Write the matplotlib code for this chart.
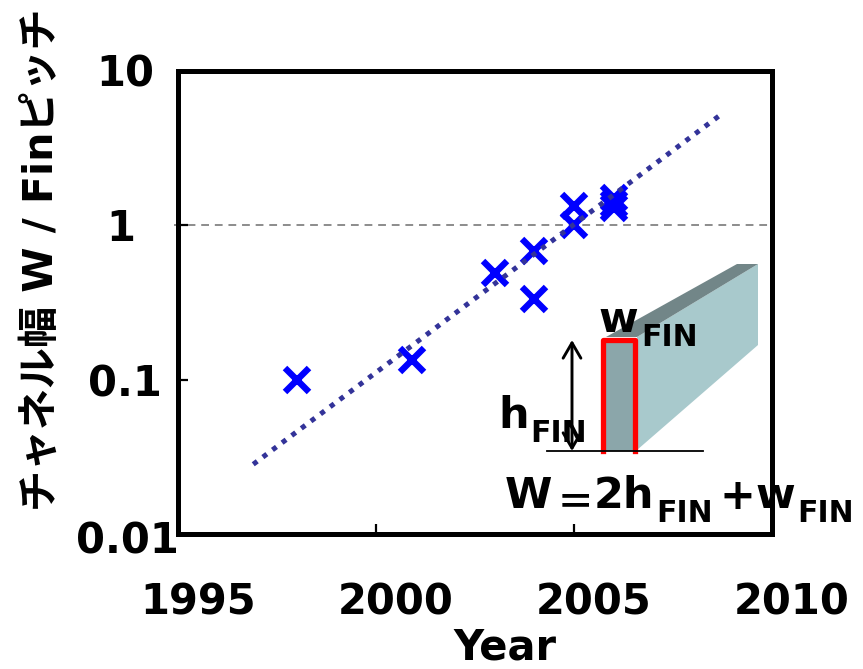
import matplotlib
matplotlib.use('Agg')
import matplotlib.pyplot as plt
from matplotlib.patches import Polygon
from matplotlib.transforms import ScaledTranslation

W, H = 863, 669
DPI = 100

years = [1998, 2000.9, 2003, 2004, 2004, 2005, 2005, 2006, 2006, 2006]
ratio = [0.1, 0.135, 0.49, 0.68, 0.335, 1.33, 1.0, 1.51, 1.30, 1.37]
trend_x = [1996.9, 2008.7]
trend_y = [0.0283, 5.2]
xticks = [1995, 2000, 2005, 2010]
yticks = [0.01, 0.1, 1, 10]
ylabels = ['0.01', '0.1', '1', '10']

plt.rcParams['font.family'] = ['DejaVu Sans', 'Noto Sans CJK JP']
plt.rcParams['font.weight'] = 'bold'

fig = plt.figure(figsize=(W / DPI, H / DPI), dpi=DPI)
L, R, T, B = 178, 772, 71, 534
ax = fig.add_axes([L / W, 1 - B / H, (R - L) / W, (B - T) / H])
ax.set_xlim(1995, 2010)
ax.set_yscale('log')
ax.set_ylim(0.01, 10)
ax.minorticks_off()

ax.plot(trend_x, trend_y, color='#333399', lw=3.6, ls=(0, (1, 1.4)), zorder=3)
ax.plot(years, ratio, ls='none', marker='x', ms=17, mew=4.6, color='#0000ff', zorder=2)
ax.plot([1994.9, 2010], [1, 1], color='#8c8c8c', lw=1.4, ls=(0, (4, 3)), clip_on=False, zorder=1)

for s in ax.spines.values():
    s.set_linewidth(3.6)
ax.set_xticks(xticks)
ax.set_xticklabels(xticks, fontsize=30)
ax.set_yticks(yticks)
ax.set_yticklabels(ylabels, fontsize=30)
ax.tick_params(axis='both', direction='in', length=7, width=1.6)
ax.tick_params(axis='x', pad=34)
ax.tick_params(axis='y', pad=0)

# labels sit off their ticks in the original
for lab in ax.get_xticklabels():
    lab.set_transform(lab.get_transform() + ScaledTranslation(20 / DPI, 0, fig.dpi_scale_trans))
for lab, dx, dy in zip(ax.get_yticklabels(), [-51, -53, -57, -53], [-3, 0, 1, 1]):
    lab.set_ha('center')
    lab.set_transform(lab.get_transform() + ScaledTranslation(dx / DPI, dy / DPI, fig.dpi_scale_trans))

fig.text(505 / W, 1 - 659 / H, 'Year', fontsize=30, ha='center', va='baseline')
fig.text(42 / W, 1 - 260 / H, 'チャネル幅 W / Finピッチ', fontsize=29.5, rotation=90, ha='center', va='center')

# fin sketch, drawn in pixel coordinates
ov = fig.add_axes([0, 0, 1, 1], facecolor='none')
ov.set_xlim(0, W)
ov.set_ylim(H, 0)
ov.axis('off')
ov.add_patch(Polygon([(637, 337), (758, 264), (758, 345), (637, 450)], fc='#a8c9cc', ec='none'))
ov.add_patch(Polygon([(606, 337), (737, 264), (758, 264), (637, 337)], fc='#728688', ec='none'))
ov.add_patch(Polygon([(603, 340), (635, 340), (635, 451), (603, 451)], fc='#8ba6aa', ec='none'))
ov.plot([603, 603, 635, 635], [451, 340, 340, 451], color='#ff0000', lw=3.8, solid_joinstyle='round')
ov.plot([547, 703], [451, 451], color='black', lw=1.3)
ov.annotate('', xy=(572, 340), xytext=(572, 451),
            arrowprops=dict(arrowstyle='<->,head_length=0.55,head_width=0.32', color='black', lw=2.1,
                            shrinkA=0, shrinkB=0, mutation_scale=20))

big = dict(fontsize=31, ha='left', va='baseline')
sub = dict(fontsize=21.5, ha='left', va='baseline')
ov.text(598, 332, 'w', **big)
ov.text(641, 346, 'FIN', **sub)
ov.text(498, 428, 'h', **big)
ov.text(530, 442, 'FIN', **sub)
ov.text(505, 508, 'W', **big)
ov.text(557, 514, '＝', **dict(big, fontsize=27))
ov.text(594, 508, '2h', **big)
ov.text(656, 522, 'FIN', **sub)
ov.text(719, 509, '+', **big)
ov.text(755, 508, 'w', **big)
ov.text(797, 522, 'FIN', **sub)

fig.savefig('out.png', dpi=DPI)
